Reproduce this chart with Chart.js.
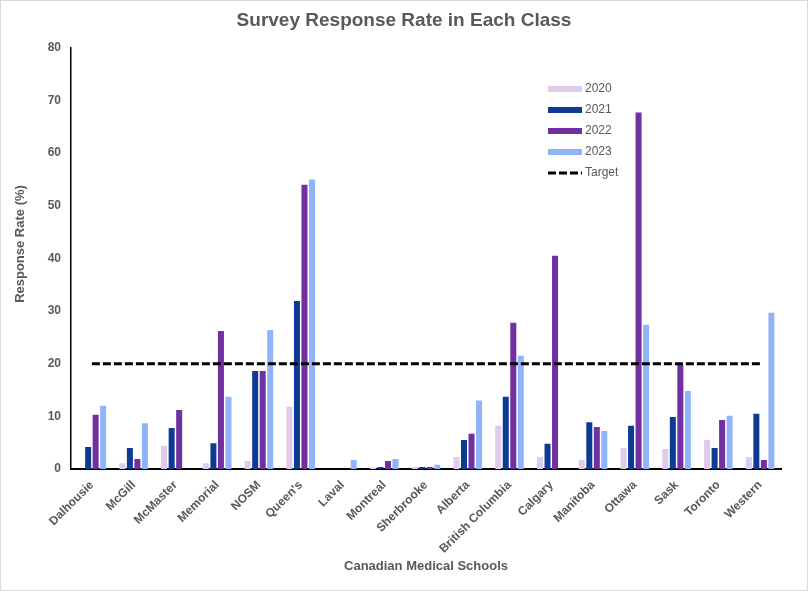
<!DOCTYPE html>
<html><head><meta charset="utf-8">
<script src="https://cdn.jsdelivr.net/npm/chart.js@4.4.0/dist/chart.umd.min.js"></script>
<style>html,body{margin:0;padding:0;background:#fff;}canvas{display:block;}</style>
</head><body>
<canvas id="c" width="808" height="591"></canvas>
<script>
const schools = ['Dalhousie','McGill','McMaster','Memorial','NOSM',"Queen's",'Laval','Montreal','Sherbrooke','Alberta','British Columbia','Calgary','Manitoba','Ottawa','Sask','Toronto','Western'];
const years = ['2020','2021','2022','2023'];
const rate2020 = [0, 1.1, 4.4, 1.1, 1.5, 11.8, 0, 0.3, 0.4, 2.3, 8.2, 2.3, 1.7, 4.0, 3.8, 5.5, 2.3];
const rate2021 = [4.2, 4.0, 7.8, 4.9, 18.6, 31.9, 0, 0.4, 0.4, 5.5, 13.7, 4.8, 8.9, 8.2, 9.9, 4.0, 10.5];
const rate2022 = [10.3, 1.9, 11.2, 26.2, 18.6, 54.0, 0, 1.5, 0.4, 6.7, 27.8, 40.5, 8.0, 67.7, 19.8, 9.3, 1.7];
const rate2023 = [12.0, 8.7, 0, 13.7, 26.4, 55.0, 1.7, 1.9, 0.8, 13.0, 21.5, 0, 7.2, 27.4, 14.8, 10.1, 29.7];
const target = [20,20,20,20,20,20,20,20,20,20,20,20,20,20,20,20,20];
const yTicks = [0,10,20,30,40,50,60,70,80];
const yTitle = 'Response Rate (%)';

const F = "'Liberation Sans', Arial, sans-serif";
const GREY = '#595959';
const colors = ['#dfcbec','#0d3b94','#7030a0','#8fb5f8'];
const series = [rate2020, rate2021, rate2022, rate2023];

const datasets = years.map((y,i)=>({
  type:'bar', label:y, data:series[i], backgroundColor:colors[i],
  barPercentage:0.8, categoryPercentage:0.72, order:1
}));
datasets.push({
  type:'line', label:'Target', data:target, borderColor:'#000', borderWidth:3,
  borderDash:[8,3], pointRadius:0, fill:false, order:0
});

const bgBorder = {
  id:'bgBorder',
  beforeDraw(chart){
    const c = chart.ctx;
    c.save();
    c.fillStyle='#fff'; c.fillRect(0,0,chart.width,chart.height);
    c.strokeStyle='#d9d9d9'; c.lineWidth=1;
    c.strokeRect(0.5,0.5,chart.width-1,chart.height-1);
    c.restore();
  }
};

const yTitlePlugin = {
  id:'yTitlePlugin',
  afterDraw(chart){
    const c = chart.ctx;
    c.save();
    c.translate(20, 244);
    c.rotate(-Math.PI/2);
    c.font = 'bold 13px ' + F;
    c.fillStyle = GREY;
    c.textAlign = 'center';
    c.textBaseline = 'middle';
    c.fillText(yTitle, 0, 0);
    c.restore();
  }
};

const customLegend = {
  id:'customLegend',
  afterDraw(chart){
    const c = chart.ctx;
    const x0 = 548, x1 = 582, tx = 585, y0 = 89, dy = 21;
    c.save();
    c.font = '12px ' + F;
    c.textBaseline = 'middle';
    chart.data.datasets.forEach((ds,i)=>{
      const y = y0 + i*dy;
      if (ds.type === 'bar') {
        c.fillStyle = ds.backgroundColor;
        c.fillRect(x0, y-3, x1-x0, 6);
      } else {
        c.strokeStyle = ds.borderColor;
        c.lineWidth = 3;
        c.setLineDash(ds.borderDash);
        c.beginPath(); c.moveTo(x0,y); c.lineTo(x1,y); c.stroke();
        c.setLineDash([]);
      }
      c.fillStyle = GREY;
      c.fillText(ds.label, tx, y);
    });
    c.restore();
  }
};

new Chart(document.getElementById('c'), {
  data:{labels:schools, datasets:datasets},
  plugins:[bgBorder, yTitlePlugin, customLegend],
  options:{
    responsive:false, animation:false,
    layout:{padding:{left:0,right:0,top:0,bottom:0}},
    plugins:{
      legend:{display:false},
      tooltip:{enabled:false},
      title:{display:true, text:'Survey Response Rate in Each Class', color:GREY,
        font:{family:F, size:19, weight:'bold'}, padding:{top:9,bottom:16}}
    },
    scales:{
      x:{
        grid:{display:false, drawTicks:false},
        border:{display:true, color:'#000', width:2},
        ticks:{color:GREY, font:{family:F,size:12,weight:'bold'}, minRotation:45, maxRotation:45, autoSkip:false, padding:9},
        title:{display:true, text:'Canadian Medical Schools', color:GREY, font:{family:F,size:13,weight:'bold'}, padding:{top:0,bottom:17}},
        afterFit(s){ s.height = 122; }
      },
      y:{
        min:0, max:80,
        grid:{display:false, drawTicks:false},
        border:{display:true, color:'#000', width:1.5},
        ticks:{color:GREY, font:{family:F,size:12,weight:'bold'}, padding:10},
        afterBuildTicks(s){ s.ticks = yTicks.map(v=>({value:v})); },
        afterFit(s){ s.width = 71; }
      },
      yRight:{
        position:'right', display:true,
        grid:{display:false, drawTicks:false},
        border:{display:false},
        ticks:{display:false},
        afterFit(s){ s.width = 27; }
      }
    }
  }
});
</script>
</body></html>
